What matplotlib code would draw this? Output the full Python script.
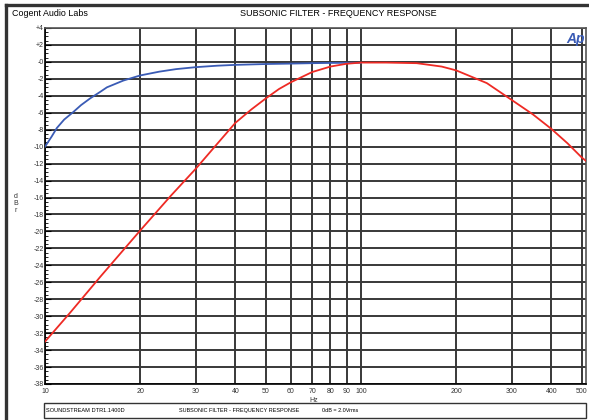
import matplotlib
matplotlib.use('Agg')
import matplotlib.pyplot as plt
from matplotlib.patches import Rectangle
from matplotlib.lines import Line2D
import numpy as np

plt.rcParams['font.family'] = ['Liberation Sans', 'DejaVu Sans']

# data
blue_f = [10, 10.5, 10.9, 11.5, 12.3, 13.0, 13.9, 15.0, 15.7, 17.7, 20, 23, 26, 30, 35, 40, 50, 60, 70, 80, 100]
blue_db = [-10.0, -8.8, -7.8, -6.8, -5.9, -5.1, -4.3, -3.5, -3.0, -2.2, -1.6, -1.15, -0.85, -0.62, -0.45, -0.35, -0.25, -0.2, -0.15, -0.12, -0.1]

red_f = [10, 12, 15, 20, 25, 30, 35, 40, 45, 50, 55, 60, 70, 80, 90, 100, 120, 150, 180, 200, 250, 300, 350, 400, 450, 500, 520]
red_db = [-33.0, -29.6, -25.3, -19.9, -15.8, -12.6, -9.7, -7.2, -5.6, -4.3, -3.2, -2.4, -1.2, -0.55, -0.22, -0.08, -0.08, -0.15, -0.55, -1.0, -2.5, -4.5, -6.2, -7.9, -9.6, -11.3, -11.8]

xticks = [10, 20, 30, 40, 50, 60, 70, 80, 90, 100, 200, 300, 400, 500]
yticks = list(range(-38, 5, 2))
ylabels = ['+%d' % v if v > 0 else '-%d' % abs(v) for v in yticks]

W, H = 589, 420
fig = plt.figure(figsize=(W / 100, H / 100), dpi=100)
fig.patch.set_facecolor('white')

ax = fig.add_axes([45 / W, 1 - 384 / H, (586 - 45) / W, (384 - 28) / H])
ax.set_xscale('log')
ax.set_xlim(10, 515)
ax.set_ylim(-38, 4)

ax.set_xticks(xticks)
ax.set_xticklabels([str(v) for v in xticks], fontsize=5, color='#333333')
ax.xaxis.set_minor_locator(matplotlib.ticker.NullLocator())
ax.set_yticks(yticks)
ax.set_yticklabels(ylabels, fontsize=5, color='#333333')
ax.set_yticks(np.arange(-38, 4.01, 0.5), minor=True)
ax.tick_params(axis='y', which='major', direction='in', length=4, width=0.8, pad=1)
ax.tick_params(axis='y', which='minor', direction='in', length=2.5, width=0.6)
ax.tick_params(axis='x', which='major', length=0, pad=3)

ax.grid(True, which='major', axis='both', color='#383838', linewidth=1.4)
ax.set_axisbelow(True)

for side in ['top', 'right']:
    ax.spines[side].set_color('#555555')
    ax.spines[side].set_linewidth(1.2)
for side in ['left', 'bottom']:
    ax.spines[side].set_color('black')
    ax.spines[side].set_linewidth(1.2)

ax.plot(blue_f, blue_db, color='#3a5bb5', linewidth=1.3, zorder=3)
ax.plot(red_f, red_db, color='#ee2a24', linewidth=1.3, zorder=4)

ax.text(0.998, 0.99, 'Ap', transform=ax.transAxes, ha='right', va='top',
        fontsize=10, fontweight='bold', fontstyle='italic', color='#3a5bb5')

# titles
fig.text(12 / W, 1 - 13 / H, 'Cogent Audio Labs', fontsize=6.4, ha='left', va='center')
fig.text(338 / W, 1 - 13 / H, 'SUBSONIC FILTER - FREQUENCY RESPONSE', fontsize=6.5, ha='center', va='center')
fig.text(314 / W, 1 - 400 / H, 'Hz', fontsize=5, ha='center', va='center', color='#333333')
fig.text(16 / W, 1 - 203 / H, 'd\nB\nr', fontsize=5, ha='center', va='center', color='#333333', linespacing=1.0)

# outer frame lines
fig.add_artist(Line2D([6 / W, 6 / W], [0, 1 - 5 / H], color='#333333', linewidth=2.4))
fig.add_artist(Line2D([6 / W, 1], [1 - 5 / H, 1 - 5 / H], color='#333333', linewidth=2.4))

# footer box
fig.add_artist(Rectangle((44 / W, 1 - 418 / H), (586 - 44) / W, 15 / H, transform=fig.transFigure,
                         fill=False, edgecolor='#333333', linewidth=1.0))
fig.text(46 / W, 1 - 410.5 / H, 'SOUNDSTREAM DTR1.1400D', fontsize=4.1, ha='left', va='center')
fig.text(179 / W, 1 - 410.5 / H, 'SUBSONIC FILTER - FREQUENCY RESPONSE', fontsize=4.0, ha='left', va='center')
fig.text(322 / W, 1 - 410.5 / H, '0dB = 2.0Vrms', fontsize=4.0, ha='left', va='center')

fig.savefig('out.png', dpi=100)
